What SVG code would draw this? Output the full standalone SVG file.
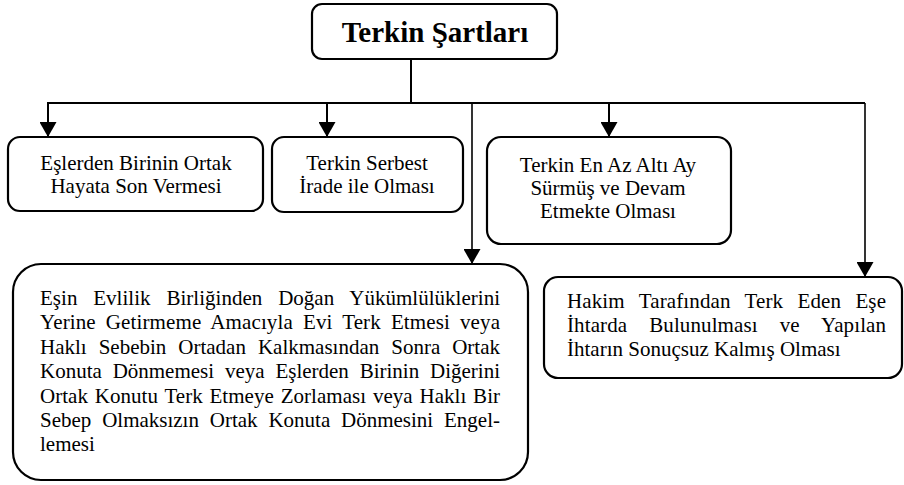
<svg xmlns="http://www.w3.org/2000/svg" width="904" height="485" viewBox="0 0 904 485">
<style>
.box{fill:#fff;stroke:#000;stroke-width:2.2}
.t{font-family:"Liberation Serif","Times New Roman",serif;font-size:21px;fill:#000}
.c{text-anchor:middle}
.title{font-family:"Liberation Serif","Times New Roman",serif;font-size:29px;font-weight:bold;text-anchor:middle;fill:#000}
.ln{fill:none;stroke:#000;stroke-width:2}
.thin{stroke-width:1.6}
</style>
<defs>
<marker id="arr" viewBox="0 0 15 17" refX="15" refY="8.5" markerWidth="15" markerHeight="17" markerUnits="userSpaceOnUse" orient="auto">
<path d="M0,0 L15,8.5 L0,17 Z" fill="#000"/>
</marker>
</defs>
<rect width="904" height="485" fill="#fff"/>
<g id="connectors">
<path class="ln" d="M411,59 V103"/>
<path class="ln" d="M47,103 H865"/>
<path class="ln" d="M48,103 V137" marker-end="url(#arr)"/>
<path class="ln" d="M327,103 V137" marker-end="url(#arr)"/>
<path class="ln" d="M609,103 V137" marker-end="url(#arr)"/>
<path class="ln thin" d="M472,103 V264" marker-end="url(#arr)"/>
<path class="ln thin" d="M865,103 V277" marker-end="url(#arr)"/>
</g>
<g id="root">
<rect class="box" x="312" y="4" width="245" height="55" rx="10"/>
<text class="title" x="435" y="42">Terkin Şartları</text>
</g>
<g id="n1">
<rect class="box" x="8" y="137" width="255" height="74" rx="12"/>
<text class="t c" x="136" y="170">Eşlerden Birinin Ortak</text>
<text class="t c" x="136" y="193">Hayata Son Vermesi</text>
</g>
<g id="n2">
<rect class="box" x="272" y="137" width="191" height="75" rx="12"/>
<text class="t c" x="367" y="170">Terkin Serbest</text>
<text class="t c" x="367" y="193">İrade ile Olması</text>
</g>
<g id="n3">
<rect class="box" x="487" y="137" width="244" height="107" rx="14"/>
<text class="t c" x="608" y="172">Terkin En Az Altı Ay</text>
<text class="t c" x="608" y="195">Sürmüş ve Devam</text>
<text class="t c" x="608" y="218">Etmekte Olması</text>
</g>
<g id="n4">
<rect class="box" x="13" y="264" width="515" height="216" rx="28"/>
<text class="t" x="40" y="305" word-spacing="10.6" textLength="460" lengthAdjust="spacing">Eşin Evlilik Birliğinden Doğan Yükümlülüklerini</text>
<text class="t" x="40" y="329.4" word-spacing="4.7" textLength="460" lengthAdjust="spacing">Yerine Getirmeme Amacıyla Evi Terk Etmesi veya</text>
<text class="t" x="40" y="353.8" word-spacing="6.7" textLength="460" lengthAdjust="spacing">Haklı Sebebin Ortadan Kalkmasından Sonra Ortak</text>
<text class="t" x="40" y="378.2" word-spacing="5.6" textLength="460" lengthAdjust="spacing">Konuta Dönmemesi veya Eşlerden Birinin Diğerini</text>
<text class="t" x="40" y="402.6" word-spacing="1.5" textLength="460" lengthAdjust="spacing">Ortak Konutu Terk Etmeye Zorlaması veya Haklı Bir</text>
<text class="t" x="40" y="427" word-spacing="5.6" textLength="460" lengthAdjust="spacing">Sebep Olmaksızın Ortak Konuta Dönmesini Engel-</text>
<text class="t" x="40" y="451.4">lemesi</text>
</g>
<g id="n5">
<rect class="box" x="544" y="277" width="358" height="101" rx="14"/>
<text class="t" x="567" y="308" word-spacing="8.9" textLength="319" lengthAdjust="spacing">Hakim Tarafından Terk Eden Eşe</text>
<text class="t" x="567" y="332" word-spacing="16.7" textLength="319" lengthAdjust="spacing">İhtarda Bulunulması ve Yapılan</text>
<text class="t" x="567" y="356">İhtarın Sonuçsuz Kalmış Olması</text>
</g>
</svg>
